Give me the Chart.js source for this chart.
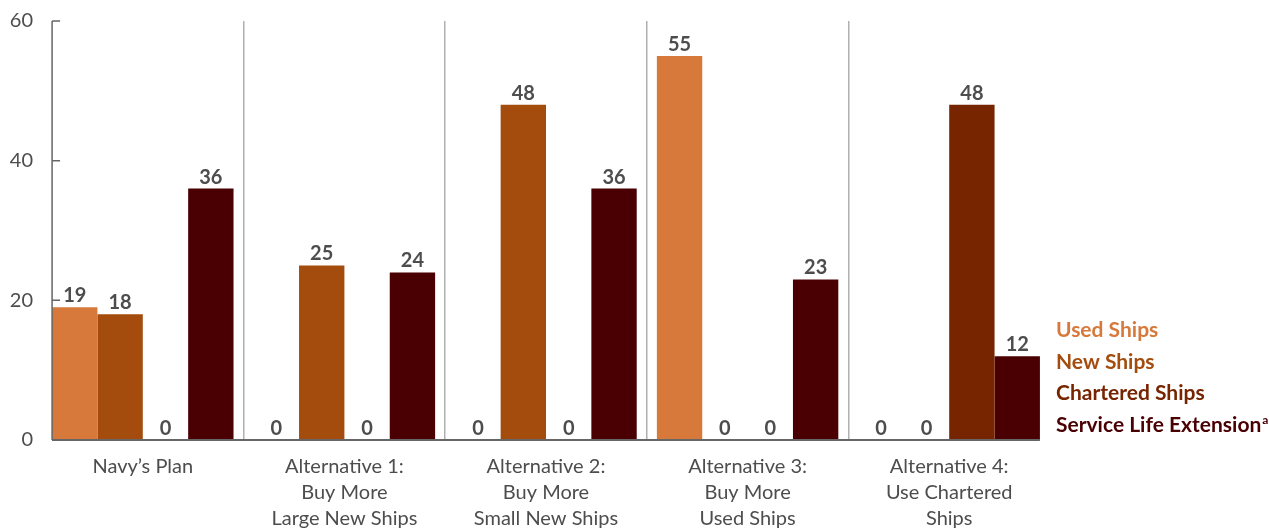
<!DOCTYPE html>
<html>
<head>
<meta charset="utf-8">
<script src="https://cdn.jsdelivr.net/npm/chart.js@4/dist/chart.umd.min.js"></script>
<style>
  html, body { margin: 0; padding: 0; background: #fff; }
  #wrap { width: 1269px; height: 531px; position: relative; }
</style>
</head>
<body>
<div id="wrap"><canvas id="c" width="1269" height="531"></canvas></div>
<script>
const categories = [
  ["Navy’s Plan"],
  ["Alternative 1:", "Buy More", "Large New Ships"],
  ["Alternative 2:", "Buy More", "Small New Ships"],
  ["Alternative 3:", "Buy More", "Used Ships"],
  ["Alternative 4:", "Use Chartered", "Ships"]
];
const usedShips = [19, 0, 0, 55, 0];
const newShips = [18, 25, 48, 0, 0];
const charteredShips = [0, 0, 0, 0, 48];
const serviceLifeExtension = [36, 24, 36, 23, 12];
const seriesNames = ["Used Ships", "New Ships", "Chartered Ships", "Service Life Extension"];
const seriesColors = ["#D7793A", "#A34C0E", "#772400", "#4A0003"];
const yTicks = [0, 20, 40, 60];

const FONT = "Lato, 'Open Sans', sans-serif";
const TEXT = "#4d4d4d";
const AXIS = "#666666";

const seriesValues = [usedShips, newShips, charteredShips, serviceLifeExtension];

const axisPlugin = {
  id: 'axisLines',
  afterDatasetsDraw(chart) {
    const ctx = chart.ctx;
    const x = chart.scales.x, y = chart.scales.y;
    const cw = x.getPixelForValue(1) - x.getPixelForValue(0);
    const cp = chart.data.datasets[0].categoryPercentage;
    const left = x.getPixelForValue(0) - cw * cp / 2;
    const right = x.getPixelForValue(categories.length - 1) + cw * cp / 2;
    const y0 = y.getPixelForValue(0);
    const yTop = y.getPixelForValue(yTicks[yTicks.length - 1]);
    ctx.save();
    ctx.strokeStyle = AXIS;
    ctx.lineWidth = 1.5;
    ctx.beginPath();
    ctx.moveTo(left, yTop);
    ctx.lineTo(left, y0);
    yTicks.forEach(v => {
      const py = y.getPixelForValue(v);
      ctx.moveTo(left, py);
      ctx.lineTo(left + 8, py);
    });
    ctx.stroke();
    ctx.lineWidth = 2;
    ctx.beginPath();
    ctx.moveTo(left, y0);
    ctx.lineTo(right, y0);
    ctx.stroke();
    ctx.restore();
  }
};

const labelPlugin = {
  id: 'valueLabels',
  afterDatasetsDraw(chart) {
    const ctx = chart.ctx;
    ctx.save();
    ctx.font = "bold 20px " + FONT;
    ctx.fillStyle = TEXT;
    ctx.textAlign = 'center';
    ctx.textBaseline = 'alphabetic';
    chart.data.datasets.forEach((ds, di) => {
      const meta = chart.getDatasetMeta(di);
      meta.data.forEach((el, i) => {
        ctx.fillText(String(ds.data[i]), el.x, el.y - 5);
      });
    });
    ctx.restore();
  }
};

const legendPlugin = {
  id: 'textLegend',
  afterDraw(chart) {
    const ctx = chart.ctx;
    const area = chart.chartArea;
    const x = area.right + 6;
    const step = 31.7;
    const lastBase = area.bottom - 8;
    ctx.save();
    ctx.textAlign = 'left';
    ctx.textBaseline = 'alphabetic';
    seriesNames.forEach((name, i) => {
      const by = lastBase - (seriesNames.length - 1 - i) * step;
      ctx.font = "bold 21px " + FONT;
      ctx.fillStyle = seriesColors[i];
      ctx.fillText(name, x, by);
      if (i === seriesNames.length - 1) {
        const w = ctx.measureText(name).width;
        ctx.font = "bold 12px " + FONT;
        ctx.fillText("a", x + w + 1, by - 8);
      }
    });
    ctx.restore();
  }
};

new Chart(document.getElementById('c'), {
  type: 'bar',
  data: {
    labels: categories,
    datasets: seriesNames.map((n, i) => ({
      label: n,
      data: seriesValues[i],
      backgroundColor: seriesColors[i],
      borderWidth: 0,
      barPercentage: 1.0,
      categoryPercentage: 0.9
    }))
  },
  options: {
    responsive: false,
    animation: false,
    devicePixelRatio: 1,
    layout: { padding: { top: 19, right: 219, left: 0, bottom: 0 } },
    plugins: {
      legend: { display: false },
      tooltip: { enabled: false },
      title: { display: false }
    },
    scales: {
      x: {
        offset: true,
        border: { display: false },
        grid: {
          offset: true,
          drawTicks: false,
          lineWidth: 1.5,
          color: c => (c.index > 0 && c.index < categories.length) ? '#b0b0b0' : 'rgba(0,0,0,0)'
        },
        ticks: {
          padding: 14,
          maxRotation: 0,
          autoSkip: false,
          color: TEXT,
          font: { family: FONT, size: 20, lineHeight: 1.3 }
        },
        afterFit: s => { s.height = 91; }
      },
      y: {
        min: 0,
        max: 60,
        border: { display: false },
        grid: { display: false, drawTicks: false },
        afterBuildTicks: s => { s.ticks = yTicks.map(v => ({ value: v })); },
        ticks: {
          padding: 9,
          color: TEXT,
          font: { family: FONT, size: 20 }
        },
        afterFit: s => { s.width = 42; }
      }
    }
  },
  plugins: [axisPlugin, labelPlugin, legendPlugin]
});
</script>
</body>
</html>
